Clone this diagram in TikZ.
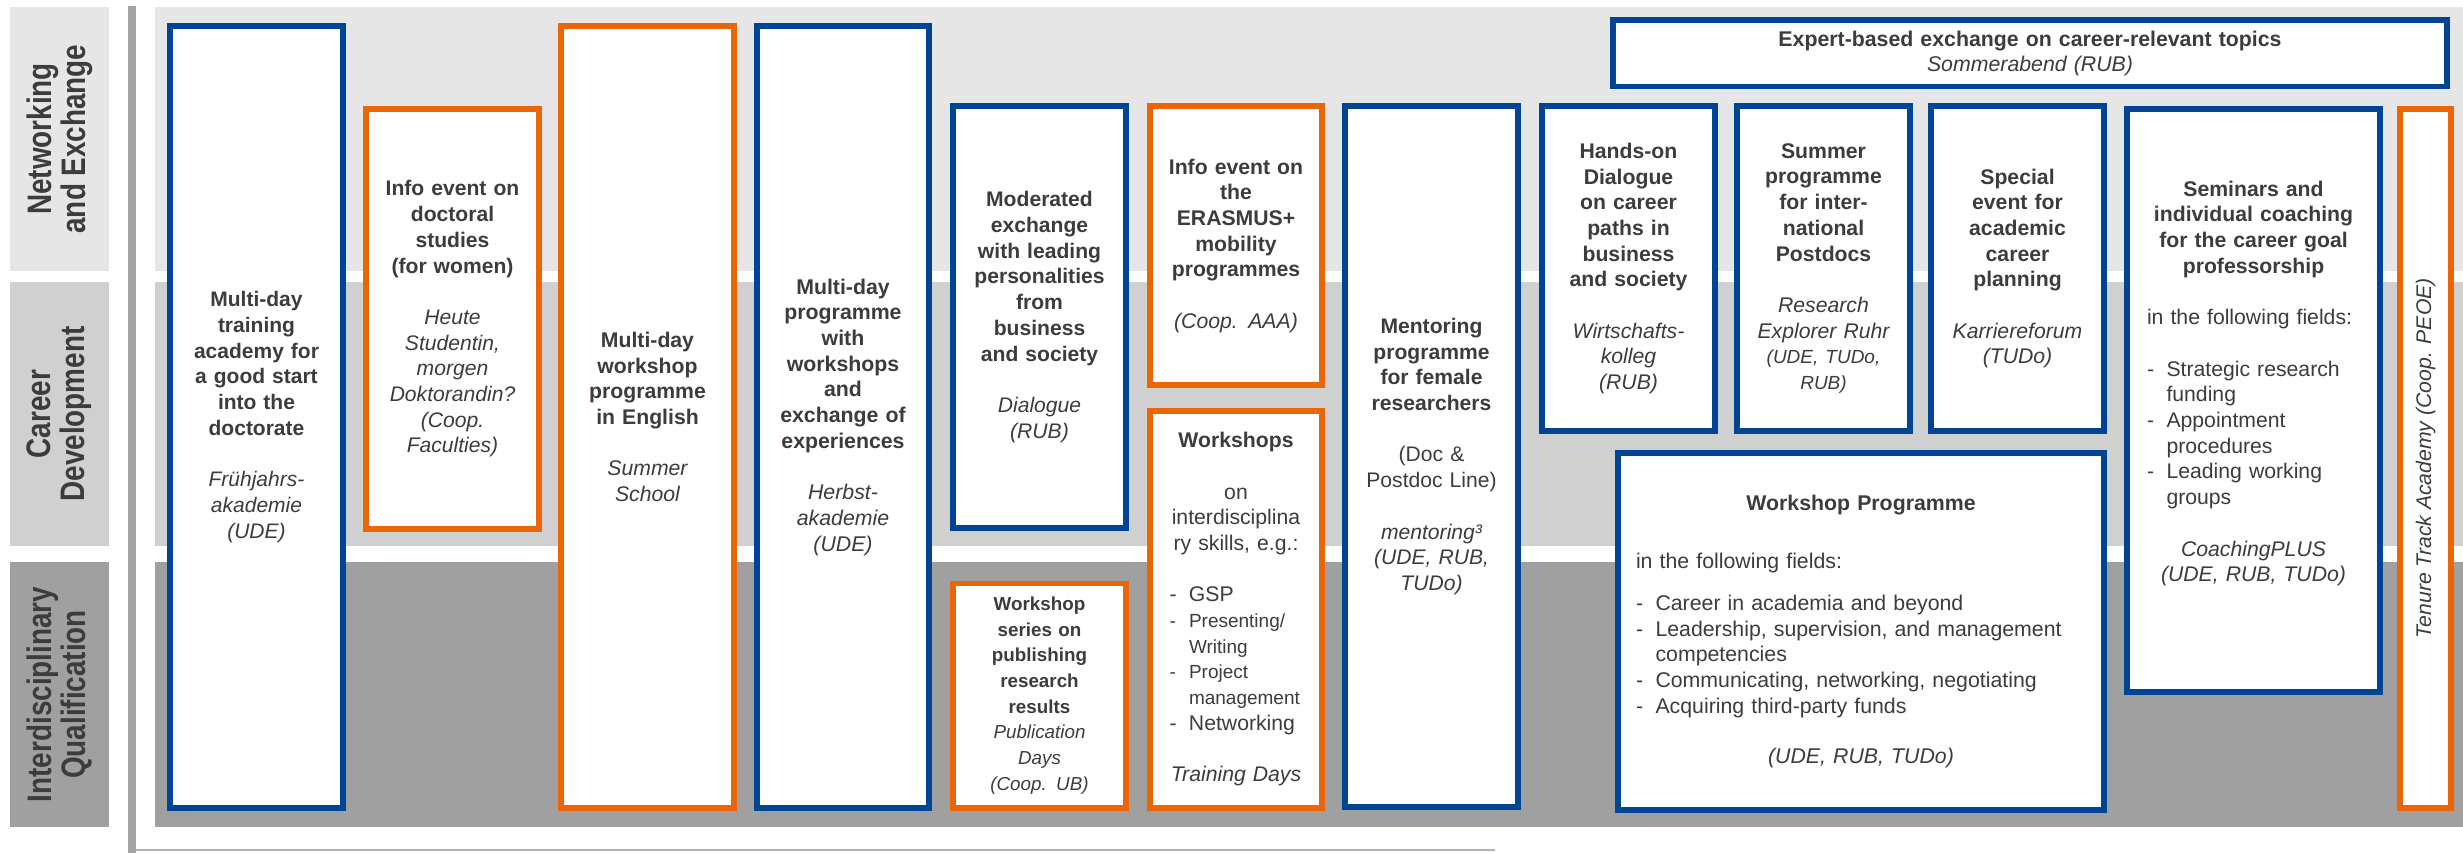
\documentclass[tikz,border=0pt]{standalone}
\usepackage{fontspec}
\setmainfont{Liberation Sans}
\newfontfamily\lanefont{Liberation Sans}[FakeStretch=0.82]
\usepackage{xcolor}
\usepackage{tikz}
\definecolor{bandlight}{HTML}{E6E6E6}
\definecolor{bandmid}{HTML}{D0D0D0}
\definecolor{banddark}{HTML}{A0A0A0}
\definecolor{bargray}{HTML}{A3A3A3}
\definecolor{linegray}{HTML}{B0B0B0}
\definecolor{uniblue}{HTML}{004494}
\definecolor{uniorange}{HTML}{EC6608}
\definecolor{ink}{HTML}{3C3C3C}
\newcommand{\fsz}[1]{\fontsize{#1}{25.7}\selectfont}
\newcommand{\itm}[1]{\par\hangindent=19.5pt\hangafter=1\noindent\hbox to 19.5pt{-\hfil}{\let\\\newline#1}\par}

\begin{document}
\begin{tikzpicture}
[x=1pt,y=-1pt,
prog/.style={draw,line width=5.8pt,fill=white,inner sep=0pt,text=ink,
	execute at begin node={\centering}},
blueprog/.style={prog,draw=uniblue},
orangeprog/.style={prog,draw=uniorange},
lane/.style={rotate=90,align=center,text=ink,
	font=\lanefont\bfseries\fontsize{34}{34}\selectfont}]
\useasboundingbox (0,0) rectangle (2463,853);
%% bands
\foreach \ya/\yb/\tone in {7/271/bandlight,282/546/bandmid,562/827/banddark}
{
	\fill[\tone] (10,\ya) rectangle (109,\yb);
	\fill[\tone] (155,\ya) rectangle (2463,\yb);
}
\fill[bargray] (128,6.5) rectangle (136,853);
\draw[linegray,line width=2.5pt] (136,850) -- (1495,850);
\node[lane] (net) at (59.5,139) {Networking\\and Exchange};
\node[lane] (car) at (59.5,414) {Career\\Development};
\node[lane] (qual) at (59.5,694.5) {Interdisciplinary\\Qualification};
%%
\node[blueprog,minimum width=173.2,minimum height=782.2,text width=163,font=\fsz{21}] (spring) at (256.5,417)
{{\bfseries Multi-day\\training\\academy for\\a good start\\into the\\doctorate\par}
	\vspace{25.7pt}
	{\itshape Frühjahrs-\\akademie\\(UDE)\par}};
\node[orangeprog,minimum width=173.2,minimum height=419.2,text width=163,font=\fsz{21.1}] (women) at (452.5,319)
{{\bfseries Info event on\\doctoral\\studies\\(for women)\par}
	\vspace{25.7pt}
	{\itshape Heute\\Studentin,\\morgen\\Doktorandin?\\(Coop.\\Faculties)\par}};
\node[orangeprog,minimum width=173.2,minimum height=782.2,text width=163,font=\fsz{21.2}] (summer) at (647.5,417)
{{\bfseries Multi-day\\workshop\\programme\\in English\par}
	\vspace{25.7pt}
	{\itshape Summer\\School\par}};
\node[blueprog,minimum width=172.2,minimum height=782.2,text width=162,font=\fsz{21.3}] (autumn) at (843,417)
{{\bfseries Multi-day\\programme\\with\\workshops\\and\\exchange of\\experiences\par}
	\vspace{25.7pt}
	{\itshape Herbst-\\akademie\\(UDE)\par}};
\node[blueprog,minimum width=173.2,minimum height=421.2,text width=163,font=\fsz{21.1}] (dialogue) at (1039.5,317)
{{\bfseries Moderated\\exchange\\with leading\\personalities\\from\\business\\and society\par}
	\vspace{25.7pt}
	{\itshape Dialogue\\(RUB)\par}};
\node[orangeprog,minimum width=173.2,minimum height=224.2,text width=163,font=\fsz{18.8}] (publish) at (1039.5,695.5)
{{\bfseries Workshop\\series on\\publishing\\research\\results\par}
	{\itshape Publication\\Days\\(Coop. UB)\par}};
\node[orangeprog,minimum width=172.2,minimum height=278.7,text width=162,font=\fsz{21.2}] (erasmus) at (1236,245.75)
{{\bfseries Info event on\\the\\ERASMUS+\\mobility\\programmes\par}
	\vspace{25.7pt}
	{\itshape (Coop. AAA)\par}};
\node[orangeprog,minimum width=172.2,minimum height=396.7,text width=133,font=\fsz{21.2}] (training) at (1236,609.25)
{{\bfseries Workshops\par}
	\vspace{25.7pt}
	on\\interdisciplina\\ry skills, e.g.:\par
	\vspace{25.7pt}
	{\raggedright
		\itm{GSP}
		{\fsz{19}\itm{Presenting/\\Writing}\itm{Project\\management}}
		\itm{Networking}}
	\vspace{25.7pt}
	{\itshape Training Days\par}};
\node[blueprog,minimum width=173.2,minimum height=700.2,text width=163,font=\fsz{21.1}] (mentor) at (1431.5,456.5)
{{\bfseries Mentoring\\programme\\for female\\researchers\par}
	\vspace{25.7pt}
	(Doc \&\\Postdoc Line)\par
	\vspace{25.7pt}
	{\itshape mentoring³\\(UDE, RUB,\\TUDo)\par}};
\node[blueprog,minimum width=834.2,minimum height=66.2,text width=820,font=\fontsize{21.3}{24.5}\selectfont] (expert) at (2030,53.5)
{{\bfseries Expert-based exchange on career-relevant topics\par}
	{\itshape Sommerabend (RUB)\par}};
\node[blueprog,minimum width=173.2,minimum height=324.2,text width=163,font=\fsz{21.2}] (business) at (1628.5,268.5)
{{\bfseries Hands-on\\Dialogue\\on career\\paths in\\business\\and society\par}
	\vspace{25.7pt}
	{\itshape Wirtschafts-\\kolleg\\(RUB)\par}};
\node[blueprog,minimum width=173.2,minimum height=324.2,text width=163,font=\fsz{21.2}] (postdocs) at (1823.5,268.5)
{{\bfseries Summer\\programme\\for inter-\\national\\Postdocs\par}
	\vspace{25.7pt}
	{\itshape Research\\Explorer Ruhr\\{\fsz{19}(UDE, TUDo,\\RUB)}\par}};
\node[blueprog,minimum width=173.2,minimum height=324.2,text width=163,font=\fsz{21.2}] (forum) at (2017.5,268.5)
{{\bfseries Special\\event for\\academic\\career\\planning\par}
	\vspace{25.7pt}
	{\itshape Karriereforum\\(TUDo)\par}};
\node[blueprog,minimum width=486.2,minimum height=357.2,text width=450,font=\fsz{21.3}] (wsprog) at (1861,631.5)
{{\bfseries Workshop Programme\par}
	\vspace{32.3pt}
	{\raggedright in the following fields:\par
		\vspace{16.7pt}
		\itm{Career in academia and beyond}
		\itm{Leadership, supervision, and management\\competencies}
		\itm{Communicating, networking, negotiating}
		\itm{Acquiring third-party funds}}
	\vspace{25pt}
	{\itshape (UDE, RUB, TUDo)\par}};
\node[blueprog,minimum width=253.2,minimum height=583.2,text width=213,font=\fsz{21.2}] (coaching) at (2253.5,400.5)
{{\bfseries Seminars and\\individual coaching\\for the career goal\\professorship\par}
	\vspace{25.7pt}
	{\raggedright in the following fields:\par
		\vspace{25.7pt}
		\itm{Strategic research\\funding}
		\itm{Appointment\\procedures}
		\itm{Leading working\\groups}}
	\vspace{25.7pt}
	{\itshape CoachingPLUS\\(UDE, RUB, TUDo)\par}
	\vspace*{34pt}};
\node[orangeprog,minimum width=51.2,minimum height=698.7] (tenure) at (2425.5,458.25) {};
\node[rotate=90,text=ink,font=\itshape\fontsize{21.2}{25}\selectfont] (tenurelabel) at (tenure.center)
{Tenure Track Academy (Coop. PEOE)};
\end{tikzpicture}
\end{document}
